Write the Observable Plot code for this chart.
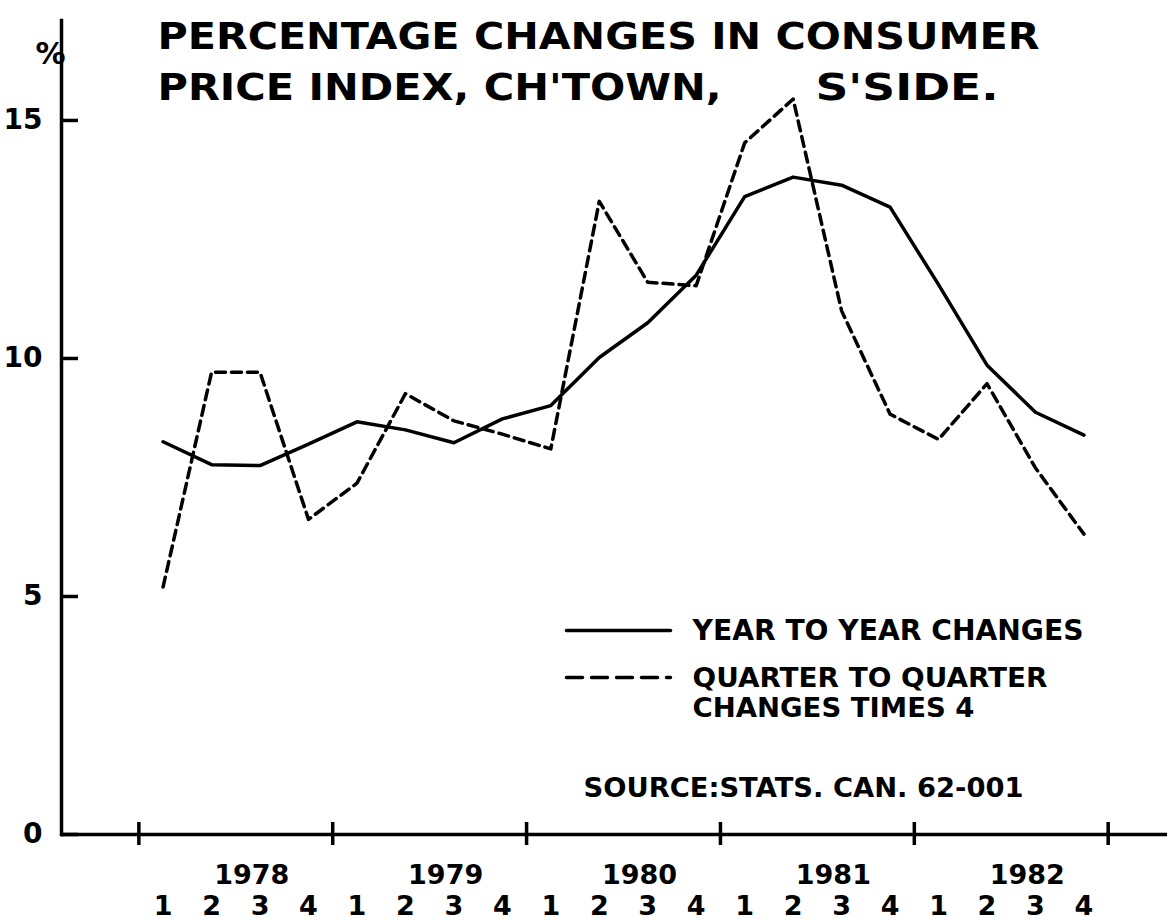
<!DOCTYPE html>
<html><head><meta charset="utf-8">
<script src="https://cdn.jsdelivr.net/npm/d3@7"></script>
<script src="https://cdn.jsdelivr.net/npm/@observablehq/plot@0.6"></script>
<style>
body{margin:0;background:#fff;}
#chart svg{display:block;}
</style>
</head><body><div id="chart"></div>
<script>
// ---- data ----
const years = [1978, 1979, 1980, 1981, 1982];
const quarters = [1, 2, 3, 4];
const yearToYearChanges = [8.25, 7.77, 7.75, 8.2, 8.67, 8.5, 8.23, 8.73, 9.01, 10.02, 10.75, 11.75, 13.40, 13.81, 13.64, 13.18, 11.55, 9.86, 8.87, 8.39];
const quarterChangesTimes4 = [5.2, 9.71, 9.71, 6.62, 7.38, 9.26, 8.69, 8.41, 8.10, 13.3, 11.60, 11.53, 14.53, 15.45, 11.0, 8.83, 8.30, 9.47, 7.70, 6.31];
const yTicks = [0, 5, 10, 15];
const yearBoundaries = [1978, 1979, 1980, 1981, 1982, 1983];
const titleLine1 = "PERCENTAGE CHANGES IN CONSUMER";
const titleLine2a = "PRICE INDEX, CH'TOWN,";
const titleLine2b = "S'SIDE.";
const unitLabel = "%";
const legendSolid = "YEAR TO YEAR CHANGES";
const legendDashed1 = "QUARTER TO QUARTER";
const legendDashed2 = "CHANGES TIMES 4";
const sourceNote = "SOURCE:STATS. CAN. 62-001";

// ---- tables built from the arrays ----
const periods = years.flatMap(y => quarters.map(q => ({year: y, quarter: q, t: y + (q - 0.5) / 4})));
const solidData = periods.map((p, i) => ({...p, value: yearToYearChanges[i]}));
const dashedData = periods.map((p, i) => ({...p, value: quarterChangesTimes4[i]}));

const FONT = "DejaVu Sans, Liberation Sans, sans-serif";
const bold = {fontWeight: "bold", fill: "black", lineAnchor: "middle"};
const segment = {draw(context, l) { context.moveTo(0, 0); context.lineTo(0, -l); }};

const chart = Plot.plot({
  width: 1167,
  height: 921,
  marginLeft: 61,
  marginRight: 0,
  marginTop: 20,
  marginBottom: 87,
  style: {fontFamily: FONT, background: "white", color: "black", overflow: "visible"},
  x: {domain: [1977.601, 1983.306], axis: null},
  y: {domain: [0, 17.1], axis: null},
  marks: [
    Plot.frame({anchor: "left", strokeWidth: 3.5}),
    Plot.ruleY([0], {strokeWidth: 3.5}),
    Plot.axisY(yTicks, {tickSize: -17, strokeWidth: 3.5, fill: "none", label: null}),
    Plot.text(yTicks, {y: d => d, text: d => String(d), frameAnchor: "left", dx: -19, textAnchor: "end", fontSize: 28, ...bold}),
    Plot.axisX(yearBoundaries, {tickSize: 11, strokeWidth: 3.5, fill: "none", label: null}),
    Plot.axisX(yearBoundaries, {tickSize: -12, strokeWidth: 3.5, fill: "none", label: null}),
    Plot.text(years, {x: d => d + 0.5, text: d => String(d), frameAnchor: "bottom", dy: 41, dx: 16, fontSize: 27, ...bold}),
    Plot.text(periods, {x: "t", text: d => String(d.quarter), frameAnchor: "bottom", dy: 72, fontSize: 27, ...bold}),
    Plot.line(solidData, {x: "t", y: "value", stroke: "black", strokeWidth: 3.5}),
    Plot.line(dashedData, {x: "t", y: "value", stroke: "black", strokeWidth: 3.5, strokeDasharray: "10,6"}),
    Plot.text([unitLabel], {frameAnchor: "top-left", dx: -26, dy: 34, fontSize: 30, ...bold}),
    Plot.text([titleLine1], {frameAnchor: "top-left", dx: 96, dy: 16, textAnchor: "start", fontSize: 38, ...bold}),
    Plot.text([titleLine2a], {frameAnchor: "top-left", dx: 96, dy: 67, textAnchor: "start", fontSize: 38, ...bold}),
    Plot.text([titleLine2b], {frameAnchor: "top-left", dx: 754, dy: 67, textAnchor: "start", fontSize: 38, ...bold}),
    Plot.vector([legendSolid], {frameAnchor: "top-left", dx: 505, dy: 610, length: 104, rotate: 90, anchor: "start", shape: segment, stroke: "black", strokeWidth: 3.5}),
    Plot.vector([legendDashed1], {frameAnchor: "top-left", dx: 505, dy: 657, length: 104, rotate: 90, anchor: "start", shape: segment, stroke: "black", strokeWidth: 3.5, strokeDasharray: "16,9"}),
    Plot.text([legendSolid], {frameAnchor: "top-left", dx: 631, dy: 611, textAnchor: "start", fontSize: 28, ...bold}),
    Plot.text([legendDashed1], {frameAnchor: "top-left", dx: 631, dy: 658, textAnchor: "start", fontSize: 27, ...bold}),
    Plot.text([legendDashed2], {frameAnchor: "top-left", dx: 631, dy: 688, textAnchor: "start", fontSize: 27, ...bold}),
    Plot.text([sourceNote], {frameAnchor: "top-left", dx: 522, dy: 768, textAnchor: "start", fontSize: 27, ...bold})
  ]
});

document.getElementById("chart").append(chart);

// fit lettering widths to the reference's hand lettering
const widths = new Map([
  [titleLine1, 882], [titleLine2a, 564], [titleLine2b, 183],
  [legendSolid, 391], [legendDashed1, 355], [legendDashed2, 282], [sourceNote, 440]
]);
d3.select(chart).selectAll("text").each(function() {
  const w = widths.get(this.textContent);
  if (w) { this.setAttribute("textLength", w); this.setAttribute("lengthAdjust", "spacingAndGlyphs"); }
});
</script>
</body></html>
